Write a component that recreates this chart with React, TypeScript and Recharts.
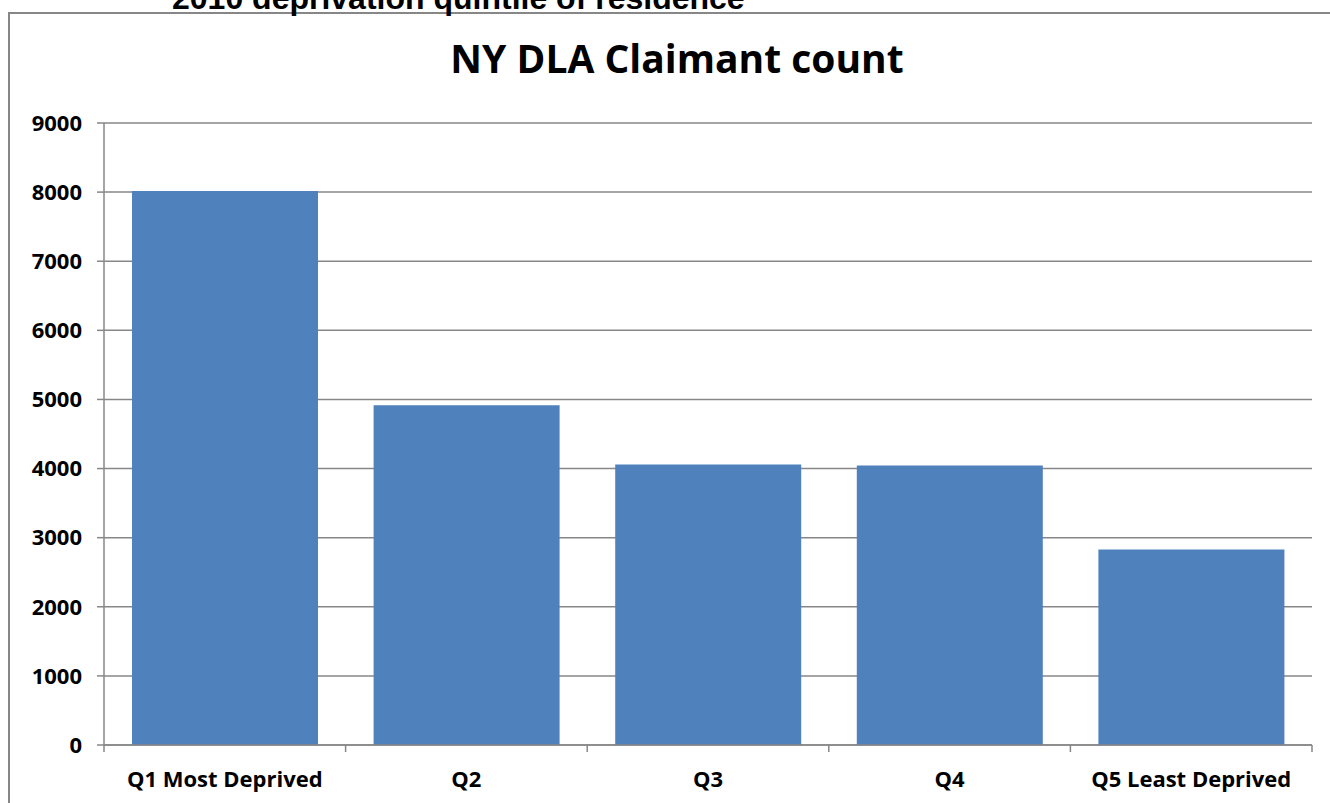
import React from 'react';
import { BarChart, Bar, XAxis, YAxis, CartesianGrid } from 'recharts';

const categories = ['Q1 Most Deprived', 'Q2', 'Q3', 'Q4', 'Q5 Least Deprived'];
const claimants = [8015, 4915, 4060, 4045, 2830];
const yTicks = [0, 1000, 2000, 3000, 4000, 5000, 6000, 7000, 8000, 9000];
const chartTitle = 'NY DLA Claimant count';
const pageHeading = '2010 deprivation quintile of residence';

const data = categories.map((name, i) => ({ name, value: claimants[i] }));

const GRAY = '#878787';
const FONT = '"Open Sans", sans-serif';

function CategoryTick(props: any) {
  const { x, y, payload, index, visibleTicksCount } = props;
  const half = payload && payload.offset ? payload.offset : 0;
  const isLast = index === visibleTicksCount - 1;
  return (
    <g>
      <line x1={x - half} x2={x - half} y1={y} y2={y + 7} stroke={GRAY} strokeWidth={1.5} />
      {isLast && <line x1={x + half} x2={x + half} y1={y} y2={y + 7} stroke={GRAY} strokeWidth={1.5} />}
      <text
        x={x}
        y={y + 26}
        dy="0.71em"
        textAnchor="middle"
        fill="#000"
        fontFamily={FONT}
        fontWeight={700}
        fontSize={22}
      >
        {payload.value}
      </text>
    </g>
  );
}

export default function App() {
  return (
    <div style={{ position: 'absolute', left: 0, top: 0, width: 1330, height: 803, overflow: 'hidden', background: '#fff' }}>
      <div style={{ position: 'absolute', left: 8, top: 12, width: 1400, height: 900, border: `2px solid ${GRAY}`, boxSizing: 'border-box' }} />
      <div style={{ position: 'absolute', left: 8, top: 12 }}>
        <BarChart
          width={1336}
          height={800}
          data={data}
          margin={{ top: 111, right: 32, bottom: 26, left: 0 }}
          barCategoryGap={28}
        >
          <CartesianGrid vertical={false} stroke={GRAY} strokeWidth={1.5} />
          <XAxis
            dataKey="name"
            interval={0}
            axisLine={{ stroke: GRAY, strokeWidth: 1.5 }}
            tickLine={false}
            tickSize={0}
            tickMargin={0}
            height={41}
            tick={<CategoryTick />}
          />
          <YAxis
            width={96}
            domain={[0, 9000]}
            ticks={yTicks}
            interval={0}
            tickSize={7}
            tickMargin={15}
            axisLine={{ stroke: GRAY, strokeWidth: 1.5 }}
            tickLine={{ stroke: GRAY, strokeWidth: 1.5 }}
            tick={{ fill: '#000', fontFamily: FONT, fontWeight: 700, fontSize: 22 }}
          />
          <Bar dataKey="value" fill="#4F81BD" isAnimationActive={false} />
        </BarChart>
      </div>
      <svg style={{ position: 'absolute', left: 0, top: 0 }} width={1330} height={100}>
        <text x={172} y={9} fontFamily='"Liberation Sans", Arial, sans-serif' fontWeight={700} fontSize={32} fill="#000">
          {pageHeading}
        </text>
        <text x={677} y={73} textAnchor="middle" fontFamily={FONT} fontWeight={700} fontSize={39} fill="#000">
          {chartTitle}
        </text>
      </svg>
    </div>
  );
}
